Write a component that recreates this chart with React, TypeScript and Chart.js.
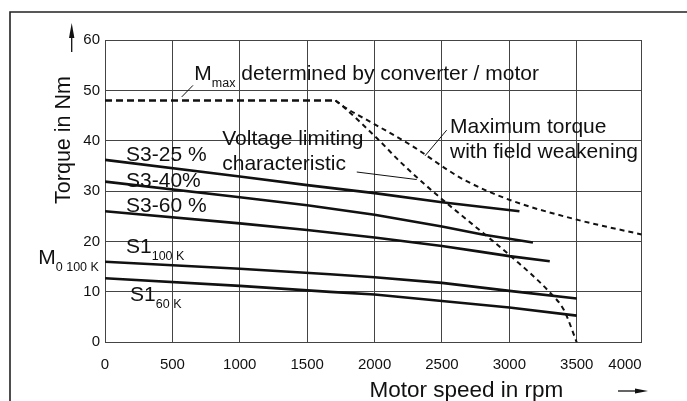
import React, { useEffect, useRef } from "react";
import { Chart, registerables } from "chart.js";

Chart.register(...registerables);

const FONT = '"Liberation Sans", Arial, Helvetica, sans-serif';

// ---- axes ----
const speedTickValues = [0, 500, 1000, 1500, 2000, 2500, 3000, 3500];
const speedAxisMax = 3982;
const speedAxisMaxLabel = "4000";
const torqueTickValues = [0, 10, 20, 30, 40, 50, 60];

// ---- characteristic curves (speed in rpm, torque in Nm) ----
const s3_25Speed = [0, 1000, 1500, 2000, 2500, 3075];
const s3_25Torque = [36.2, 32.9, 31.2, 29.6, 27.8, 26.0];
const s3_40Speed = [0, 1000, 1500, 2000, 2500, 2800, 3175];
const s3_40Torque = [31.9, 28.8, 27.2, 25.3, 23.0, 21.4, 19.8];
const s3_60Speed = [0, 1000, 1500, 2000, 2500, 2780, 3000, 3300];
const s3_60Torque = [26.0, 23.6, 22.3, 20.8, 19.1, 18.0, 17.1, 16.1];
const s1_100Speed = [0, 1000, 1670, 2000, 2500, 3000, 3500];
const s1_100Torque = [16.0, 14.6, 13.5, 12.9, 11.8, 10.2, 8.7];
const s1_60Speed = [0, 1000, 1670, 2000, 2500, 3000, 3500];
const s1_60Torque = [12.7, 11.2, 10.0, 9.5, 8.2, 6.9, 5.3];
const mmaxSpeed = [0, 1710];
const mmaxTorque = [48, 48];
const voltSpeed = [1710, 1770, 2018, 2191, 2439, 2823, 3015, 3300, 3405, 3500];
const voltTorque = [48, 46.7, 40.5, 35.8, 29.8, 21.3, 17.0, 9.9, 6.4, 0];
const fieldSpeed = [1710, 1770, 1993, 2289, 2538, 2660, 3009, 3507, 3982];
const fieldTorque = [48, 46.8, 43.4, 38.8, 34.3, 32.3, 28.2, 24.3, 21.4];

// ---- annotation texts, anchored in data coordinates ----
const noteTexts = [
  { text: "M", sub: "max", after: " determined by converter / motor", speed: 663, torque: 52.0 },
  { text: "Voltage limiting", speed: 870, torque: 39.1 },
  { text: "characteristic", speed: 870, torque: 34.2 },
  { text: "Maximum torque", speed: 2560, torque: 41.5 },
  { text: "with field weakening", speed: 2560, torque: 36.5 },
  { text: "S3-25 %", speed: 156, torque: 36.0 },
  { text: "S3-40%", speed: 156, torque: 30.9 },
  { text: "S3-60 %", speed: 156, torque: 25.8 },
  { text: "S1", sub: "100 K", speed: 156, torque: 17.7 },
  { text: "S1", sub: "60 K", speed: 186, torque: 8.2 },
  { text: "M", sub: "0 100 K", speed: -495, torque: 15.5 },
];
const leaderFromSpeed = [569, 1868, 2374];
const leaderFromTorque = [48.7, 33.8, 37.0];
const leaderToSpeed = [653, 2313, 2535];
const leaderToTorque = [51.0, 32.3, 42.1];

const yTitle = "Torque in Nm";
const xTitle = "Motor speed in rpm";

const pts = (xs: number[], ys: number[]) => xs.map((v, i) => ({ x: v, y: ys[i] }));

const solid = (data: { x: number; y: number }[]) => ({
  data,
  borderColor: "#111",
  borderWidth: 2.6,
  pointRadius: 0,
  tension: 0,
  fill: false,
});

const overlayPlugin = {
  id: "overlay",
  afterDraw(chart: any) {
    const { ctx } = chart;
    const xs = chart.scales.x;
    const ys = chart.scales.y;
    ctx.save();
    // leader lines
    ctx.strokeStyle = "#111";
    ctx.lineWidth = 1;
    leaderFromSpeed.forEach((s, i) => {
      ctx.beginPath();
      ctx.moveTo(xs.getPixelForValue(s), ys.getPixelForValue(leaderFromTorque[i]));
      ctx.lineTo(xs.getPixelForValue(leaderToSpeed[i]), ys.getPixelForValue(leaderToTorque[i]));
      ctx.stroke();
    });
    // annotation texts
    ctx.fillStyle = "#111";
    ctx.textAlign = "left";
    ctx.textBaseline = "alphabetic";
    noteTexts.forEach((n: any) => {
      let px = xs.getPixelForValue(n.speed);
      const py = ys.getPixelForValue(n.torque);
      ctx.font = `21px ${FONT}`;
      ctx.fillText(n.text, px, py);
      px += ctx.measureText(n.text).width;
      if (n.sub) {
        ctx.font = `12.5px ${FONT}`;
        ctx.fillText(n.sub, px, py + 7);
        px += ctx.measureText(n.sub).width;
      }
      if (n.after) {
        ctx.font = `21px ${FONT}`;
        ctx.fillText(n.after, px, py);
      }
    });
    // y title (rotated) + arrow
    ctx.save();
    ctx.translate(70, 140);
    ctx.rotate(-Math.PI / 2);
    ctx.font = `21.5px ${FONT}`;
    ctx.textAlign = "center";
    ctx.fillText(yTitle, 0, 0);
    ctx.restore();
    ctx.lineWidth = 1.3;
    ctx.beginPath();
    ctx.moveTo(71.7, 52);
    ctx.lineTo(71.7, 34);
    ctx.stroke();
    ctx.beginPath();
    ctx.moveTo(71.7, 23);
    ctx.lineTo(69, 38);
    ctx.lineTo(74.4, 38);
    ctx.closePath();
    ctx.fill();
    // x title + arrow
    ctx.font = `22.5px ${FONT}`;
    ctx.textAlign = "center";
    ctx.fillText(xTitle, 466.4, 396.7);
    ctx.beginPath();
    ctx.moveTo(618, 391);
    ctx.lineTo(638, 391);
    ctx.stroke();
    ctx.beginPath();
    ctx.moveTo(648, 391);
    ctx.lineTo(635, 388.5);
    ctx.lineTo(635, 393.5);
    ctx.closePath();
    ctx.fill();
    // outer frame (top and left)
    ctx.strokeStyle = "#222";
    ctx.lineWidth = 1.6;
    ctx.beginPath();
    ctx.moveTo(10, 401);
    ctx.lineTo(10, 12);
    ctx.lineTo(687, 12);
    ctx.stroke();
    ctx.restore();
  },
};

export default function App() {
  const ref = useRef<HTMLCanvasElement | null>(null);
  useEffect(() => {
    if (!ref.current) return;
    const gridColor = "#444";
    const chart = new Chart(ref.current, {
      type: "line",
      data: {
        datasets: [
          solid(pts(s3_25Speed, s3_25Torque)),
          solid(pts(s3_40Speed, s3_40Torque)),
          solid(pts(s3_60Speed, s3_60Torque)),
          solid(pts(s1_100Speed, s1_100Torque)),
          solid(pts(s1_60Speed, s1_60Torque)),
          {
            data: pts(mmaxSpeed, mmaxTorque),
            borderColor: "#111",
            borderWidth: 2.5,
            borderDash: [7, 4],
            pointRadius: 0,
            fill: false,
          },
          {
            data: pts(voltSpeed, voltTorque),
            borderColor: "#111",
            borderWidth: 2,
            borderDash: [5, 4],
            pointRadius: 0,
            cubicInterpolationMode: "monotone",
            fill: false,
          },
          {
            data: pts(fieldSpeed, fieldTorque),
            borderColor: "#111",
            borderWidth: 2,
            borderDash: [5, 4],
            pointRadius: 0,
            cubicInterpolationMode: "monotone",
            fill: false,
          },
        ] as any,
      },
      options: {
        animation: false,
        responsive: false,
        devicePixelRatio: 1,
        layout: { padding: { left: 0, top: 40, right: 45.3, bottom: 0 } },
        plugins: { legend: { display: false }, tooltip: { enabled: false } },
        scales: {
          x: {
            type: "linear",
            min: 0,
            max: speedAxisMax,
            afterBuildTicks: (s: any) => {
              s.ticks = [{ value: 0 }, ...speedTickValues.map((v) => ({ value: v })), { value: speedAxisMax }];
            },
            afterFit: (s: any) => {
              s.height = 58.7;
            },
            ticks: {
              autoSkip: false,
              maxRotation: 0,
              align: "inner",
              padding: 14,
              color: "#111",
              font: { family: FONT, size: 15 },
              callback: (v: any, i: number) =>
                i === 0 ? "" : Number(v) === speedAxisMax ? speedAxisMaxLabel : String(v),
            },
            grid: { color: gridColor, lineWidth: 1, drawTicks: false },
            border: { color: gridColor, width: 1 },
          },
          y: {
            type: "linear",
            min: 0,
            max: 60,
            afterBuildTicks: (s: any) => {
              s.ticks = torqueTickValues.map((v) => ({ value: v }));
            },
            afterFit: (s: any) => {
              s.width = 105;
            },
            ticks: {
              padding: 5,
              color: "#111",
              font: { family: FONT, size: 15 },
              callback: (v: any) => String(v),
            },
            grid: { color: gridColor, lineWidth: 1, drawTicks: false },
            border: { color: gridColor, width: 1 },
          },
        },
      } as any,
      plugins: [overlayPlugin],
    });
    return () => chart.destroy();
  }, []);
  return (
    <div style={{ position: "absolute", left: 0, top: 0, width: 687, height: 401, background: "#fff" }}>
      <canvas ref={ref} width={687} height={401} />
    </div>
  );
}
